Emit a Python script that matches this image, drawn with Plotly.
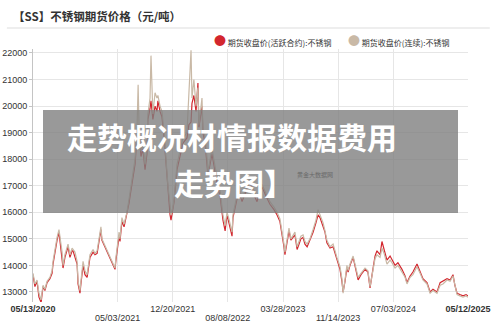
import plotly.graph_objects as go

# ---------------- data ----------------
dates = [
    "2020-05-13", "2020-05-21", "2020-05-30", "2020-06-07", "2020-06-16", "2020-06-24", "2020-07-02", "2020-07-11",
    "2020-07-23", "2020-08-01", "2020-08-05", "2020-08-13", "2020-08-22", "2020-08-30", "2020-09-03", "2020-09-12",
    "2020-09-16", "2020-09-24", "2020-10-07", "2020-10-15", "2020-10-24", "2020-10-28", "2020-11-05", "2020-11-14",
    "2020-11-18", "2020-11-26", "2020-11-30", "2020-12-09", "2020-12-17", "2020-12-26",
    "2021-01-07", "2021-01-20", "2021-01-28", "2021-02-06", "2021-02-14", "2021-02-22", "2021-02-26",
    "2021-04-22", "2021-04-26", "2021-04-30", "2021-05-09", "2021-05-13", "2021-05-21", "2021-05-30", "2021-06-11",
    "2021-06-20", "2021-06-24", "2021-07-02", "2021-07-07", "2021-07-15", "2021-07-23", "2021-07-28", "2021-08-01",
    "2021-08-09", "2021-08-17", "2021-08-26", "2021-09-03", "2021-09-07", "2021-09-16", "2021-09-20", "2021-09-28",
    "2021-10-07", "2021-10-15", "2021-10-19", "2021-10-28", "2021-11-05", "2021-11-14", "2021-11-18", "2021-11-26",
    "2021-11-30", "2021-12-09", "2021-12-13", "2021-12-21", "2021-12-26",
    "2022-01-07", "2022-01-20", "2022-02-01", "2022-02-18", "2022-02-26", "2022-03-07", "2022-03-11", "2022-03-19",
    "2022-03-28", "2022-04-05", "2022-04-09", "2022-04-22", "2022-04-26", "2022-05-05", "2022-05-13", "2022-05-17",
    "2022-06-03", "2022-06-16", "2022-06-24", "2022-07-07", "2022-07-19", "2022-07-28", "2022-08-05", "2022-08-13",
    "2022-08-26", "2022-08-30", "2022-09-16", "2022-09-28", "2022-10-07", "2022-10-24", "2022-11-09", "2022-11-26",
    "2022-12-09", "2022-12-21", "2022-12-30",
    "2023-01-16", "2023-02-01", "2023-02-18", "2023-03-03", "2023-03-15", "2023-03-24", "2023-04-01", "2023-04-05",
    "2023-04-14", "2023-04-22", "2023-04-30", "2023-05-09", "2023-05-17", "2023-05-26", "2023-06-03", "2023-06-11",
    "2023-06-20", "2023-06-28", "2023-07-07", "2023-07-19", "2023-08-01", "2023-08-13", "2023-08-22", "2023-08-30",
    "2023-09-12", "2023-09-20", "2023-09-28", "2023-10-11", "2023-10-24", "2023-11-09", "2023-11-22", "2023-11-30",
    "2023-12-05", "2023-12-13", "2023-12-21", "2023-12-26",
    "2024-01-03", "2024-01-16", "2024-01-24", "2024-02-06", "2024-02-18", "2024-03-06", "2024-03-18", "2024-03-27",
    "2024-04-08", "2024-04-17", "2024-04-25", "2024-05-08", "2024-05-16", "2024-05-25", "2024-06-06", "2024-06-19",
    "2024-06-27", "2024-07-10", "2024-07-22", "2024-08-08", "2024-08-21", "2024-08-29", "2024-09-11", "2024-09-23",
    "2024-10-10", "2024-10-23", "2024-11-04", "2024-11-21", "2024-12-04", "2024-12-16",
    "2025-01-02", "2025-01-15", "2025-01-27", "2025-02-13", "2025-02-26", "2025-03-10", "2025-03-18", "2025-03-27",
    "2025-04-08", "2025-04-21", "2025-05-04", "2025-05-12",
]

# 期货收盘价(连续):不锈钢
continuous = [
    13700, 13300, 13450, 12950, 12700, 13250, 13100, 13400, 13550, 13800, 14150, 14600, 15050, 15350, 15100,
    14500, 14000, 14400, 14800, 14400, 14650, 14600, 14500, 14150, 13400, 13050, 13400, 14150, 13800, 13650,
    14400, 14600, 14450, 14550, 15000, 15450, 15000,
    13900, 14300, 14550, 15250, 15000, 15800, 15550, 16000, 16500, 16750, 17200, 17500, 18000, 19000, 20800,
    19200, 18300, 18600, 17800, 18400, 19700, 20300, 21900, 19700, 20500, 20300, 20400, 20000, 19800, 19000,
    18500, 17500, 17000, 16300, 15900, 16200, 16500,
    17800, 18300, 18800, 19000, 20400, 22100, 20300, 21000, 20000, 20700, 19300, 20300, 19100, 18800, 18050,
    17500, 18400, 17600, 17300, 16800, 15900, 15500, 16000, 15750, 15250, 15900, 16650, 16800, 16500, 16900,
    17300, 16800, 16550, 16900, 17050,
    16700, 16400, 16200, 16000, 15750, 15300, 14800, 14500, 15000, 15400, 15000, 15150, 15250, 14700, 14950,
    15100, 15150, 14900, 14800, 15000, 15350, 15700, 16100, 15900, 15600, 15300, 14950, 14700, 14800, 14300,
    13950, 13500, 12950, 13450, 14000, 13800,
    14050, 14350, 14050, 13550, 13700, 13900, 13800, 13200, 13800, 14250, 14400, 14300, 14650, 14450, 14050,
    14200, 14100, 13900, 14000, 13750, 13550, 13300, 13550, 13650, 13950, 13700, 13450, 13300, 12950, 13050,
    12950, 13250, 13300, 13450, 13400, 13600, 13200, 12900, 12850, 12800, 12850, 12800,
]

# 期货收盘价(活跃合约):不锈钢
active = [
    13650, 13200, 13400, 12800, 12600, 13200, 13050, 13350, 13500, 13700, 14050, 14500, 14950, 15250, 14950,
    14300, 13900, 14300, 14700, 14300, 14550, 14550, 14350, 14050, 13300, 12950, 13300, 14000, 13650, 13550,
    14300, 14500, 14400, 14450, 14900, 15350, 14950,
    13850, 14200, 14450, 15100, 14900, 15650, 15450, 15900, 16350, 16600, 17000, 17300, 17800, 18800, 19300,
    19000, 18100, 18400, 17600, 18200, 19500, 19900, 20200, 19500, 20000, 19800, 20200, 19800, 19600, 18800,
    18300, 17200, 16700, 15900, 15700, 16100, 16400,
    17600, 18100, 18600, 18800, 19300, 19400, 20100, 20400, 19800, 20870, 19200, 20000, 19000, 18600, 17900,
    17400, 18200, 17500, 17100, 16600, 15700, 15300, 15900, 15600, 15100, 15800, 16500, 16700, 16400, 16800,
    17200, 16650, 16400, 16800, 16950,
    16600, 16300, 16100, 15900, 15650, 15200, 14700, 14400, 14900, 15300, 14950, 15050, 15150, 14600, 14850,
    15000, 15050, 14800, 14700, 14950, 15250, 15600, 15900, 15800, 15500, 15250, 14850, 14650, 14700, 14200,
    13850, 13400, 13000, 13400, 13900, 13750,
    14000, 14300, 14000, 13450, 13650, 13850, 13750, 13150, 13850, 14350, 14550, 14400, 14900, 14600, 14200,
    14350, 14200, 14000, 14100, 13850, 13600, 13350, 13600, 13750, 14050, 13750, 13500, 13350, 13000, 13100,
    13000, 13350, 13400, 13500, 13450, 13650, 13250, 12950, 12900, 12850, 12900, 12850,
]

series_names = ["期货收盘价(活跃合约):不锈钢", "期货收盘价(连续):不锈钢"]
title_text = "【SS】不锈钢期货价格（元/吨）"

y_ticks = [13000, 14000, 15000, 16000, 17000, 18000, 19000, 20000, 21000, 22000]
x_ticks_row1 = ["2020-05-13", "2021-12-20", "2023-03-28", "2024-07-03", "2025-05-12"]
x_labels_row1 = ["<b>05/13/2020</b>", "12/20/2021", "03/28/2023", "07/03/2024", "<b>05/12/2025</b>"]
x_ticks_row2 = ["2021-05-03", "2022-08-08", "2023-11-14"]
x_labels_row2 = ["05/03/2021", "08/08/2022", "11/14/2023"]

# ---------------- style ----------------
RED = "#d3262e"
TAN = "#c9b9a6"
FONT = "Liberation Sans, Arial, Noto Sans CJK SC, sans-serif"
CJK = "Noto Sans CJK SC, Liberation Sans, sans-serif"
x_range = ["2020-05-13", "2025-05-12"]
y_range = [12620, 22150]

fig = go.Figure()
fig.add_trace(go.Scatter(x=dates, y=active, mode="lines", name=series_names[0],
                         line=dict(color=RED, width=1.2), showlegend=False))
fig.add_trace(go.Scatter(x=dates, y=continuous, mode="lines", name=series_names[1],
                         line=dict(color=TAN, width=1.2), showlegend=False))
# helper trace so the second-row tick axis is drawn
fig.add_trace(go.Scatter(x=[None], y=[None], xaxis="x2", yaxis="y", showlegend=False, hoverinfo="skip"))

all_ticks = sorted(x_ticks_row1 + x_ticks_row2)
row1_map = dict(zip(x_ticks_row1, x_labels_row1))

fig.update_layout(
    width=500, height=324,
    margin=dict(l=33, r=32, t=49, b=22),
    paper_bgcolor="white", plot_bgcolor="white",
    font=dict(family=FONT, size=9, color="#333"),
    title=dict(text="<b>" + title_text + "</b>", x=13 / 500, xanchor="left",
               y=1 - 17 / 324, yanchor="middle",
               font=dict(family=CJK, size=11.5, color="#333")),
    xaxis=dict(type="date", range=x_range, tickvals=all_ticks,
               ticktext=[row1_map.get(t, "") for t in all_ticks],
               showgrid=True, gridcolor="#e6e6e6", gridwidth=1, automargin=False,
               showline=False, zeroline=False, ticks="",
               tickfont=dict(size=9, color="#333")),
    xaxis2=dict(type="date", range=x_range, overlaying="x", anchor="y", side="bottom",
                tickvals=x_ticks_row2, ticktext=x_labels_row2, showgrid=False, automargin=False,
                showline=False, zeroline=False, ticks="", ticklabelstandoff=9,
                tickfont=dict(size=9, color="#333")),
    yaxis=dict(range=y_range, tickvals=y_ticks, ticktext=[str(v) for v in y_ticks],
               showgrid=True, gridcolor="#e6e6e6", automargin=False,
               showline=True, linecolor="#c4c4c4", linewidth=1,
               ticks="outside", ticklen=3, tickcolor="#c4c4c4",
               zeroline=False, tickfont=dict(size=9, color="#333")),
    shapes=[
        dict(type="line", xref="paper", yref="paper", x0=-0.06, x1=1.05,
             y0=(302 - 28) / 253, y1=(302 - 28) / 253, line=dict(color="#dddddd", width=1)),
        dict(type="rect", xref="paper", yref="paper",
             x0=(43 - 33) / 435, x1=(458 - 33) / 435,
             y0=(302 - 213) / 253, y1=(302 - 110) / 253,
             fillcolor="rgba(128,128,128,0.8)", line=dict(width=0), layer="above"),
    ],
)

annotations = [
    # legend
    dict(xref="paper", yref="paper", x=(212 - 33) / 435, y=(302 - 41) / 253, xanchor="left", yanchor="middle",
         showarrow=False, font=dict(family=CJK, size=8, color="#333"),
         text='<span style="color:%s;font-size:12px">●</span> %s' % (RED, series_names[0])),
    dict(xref="paper", yref="paper", x=(346 - 33) / 435, y=(302 - 41) / 253, xanchor="left", yanchor="middle",
         showarrow=False, font=dict(family=CJK, size=8, color="#333"),
         text='<span style="color:%s;font-size:12px">●</span> %s' % (TAN, series_names[1])),
    # faint watermark (kept clear of the headline text)
    dict(xref="paper", yref="paper", x=(335 - 33) / 435, y=(302 - 174) / 253, showarrow=False,
         font=dict(family=CJK, size=6, color="#6a6a6a"), text="黄金大数据网"),
    # overlay headline
    dict(xref="paper", yref="paper", x=(232 - 33) / 435, y=(302 - 136) / 253, showarrow=False,
         font=dict(family=CJK, size=30, color="white"), text="<b>走势概况材情报数据费用</b>"),
    dict(xref="paper", yref="paper", x=(234 - 33) / 435, y=(302 - 182) / 253, showarrow=False,
         font=dict(family=CJK, size=30, color="white"), text="<b>走势图】</b>"),
]
fig.update_layout(annotations=annotations)

fig.write_html("out.html")
